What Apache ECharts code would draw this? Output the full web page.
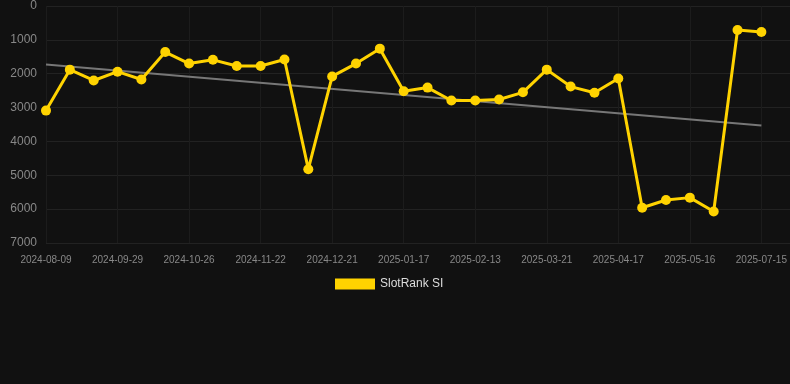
<!DOCTYPE html>
<html>
<head>
<meta charset="utf-8">
<script src="https://cdn.jsdelivr.net/npm/echarts@6/dist/echarts.min.js"></script>
<style>
  html, body { margin: 0; padding: 0; background: #111111; }
  #main { width: 790px; height: 384px; }
</style>
</head>
<body>
<div id="main"></div>
<script>
const dates = [
  '2024-08-09', '2024-08-26', '2024-09-12', '2024-09-29', '2024-10-08', '2024-10-17',
  '2024-10-26', '2024-11-04', '2024-11-13', '2024-11-22', '2024-12-01', '2024-12-11',
  '2024-12-21', '2024-12-30', '2025-01-08', '2025-01-17', '2025-01-26', '2025-02-04',
  '2025-02-13', '2025-02-25', '2025-03-09', '2025-03-21', '2025-03-30', '2025-04-08',
  '2025-04-17', '2025-04-26', '2025-05-06', '2025-05-16', '2025-06-05', '2025-06-25',
  '2025-07-15'
];
const rankValues = [
  3090, 1880, 2200, 1940, 2170, 1360, 1700, 1590, 1770, 1770, 1580,
  4820, 2080, 1700, 1260, 2520, 2410, 2790, 2790, 2760, 2550, 1880,
  2380, 2560, 2140, 5960, 5730, 5660, 6070, 710, 770
];
// trend line end points (first and last date)
const trendValues = [1730, 3530];

const chart = echarts.init(document.getElementById('main'));

const rankData = rankValues.map((v, i) => [i, v]);
const trendData = [[0, trendValues[0]], [dates.length - 1, trendValues[1]]];

chart.setOption({
  backgroundColor: '#111111',
  animation: false,
  grid: { left: 46, right: 0, top: 6, bottom: 141 },
  legend: {
    data: ['SlotRank SI'],
    top: 273,
    left: 330,
    itemWidth: 40,
    itemHeight: 11,
    itemGap: 10,
    icon: 'rect',
    textStyle: { color: '#dddddd', fontSize: 12, fontFamily: 'Arial, Liberation Sans, sans-serif' }
  },
  xAxis: {
    type: 'value',
    min: 0,
    max: 31.2,
    interval: 3,
    axisLine: { show: false },
    axisTick: { show: false },
    axisLabel: {
      color: '#888888',
      fontSize: 10,
      margin: 12,
      fontFamily: 'Arial, Liberation Sans, sans-serif',
      showMaxLabel: false,
      formatter: v => dates[v] || ''
    },
    splitLine: { show: true, lineStyle: { color: '#1c1c1c', width: 1 } }
  },
  yAxis: {
    type: 'value',
    inverse: true,
    min: 0,
    max: 7000,
    interval: 1000,
    axisLine: { show: false },
    axisTick: { show: false },
    axisLabel: {
      color: '#888888',
      fontSize: 12,
      margin: 9,
      fontFamily: 'Arial, Liberation Sans, sans-serif',
      formatter: v => String(v)
    },
    splitLine: { lineStyle: { color: '#222222', width: 1 } }
  },
  series: [
    {
      name: 'trend',
      type: 'line',
      data: trendData,
      symbol: 'none',
      silent: true,
      lineStyle: { color: '#777777', width: 2 },
      z: 1
    },
    {
      name: 'SlotRank SI',
      type: 'line',
      data: rankData,
      symbol: 'circle',
      symbolSize: 10,
      itemStyle: { color: '#FFD300' },
      lineStyle: { color: '#FFD300', width: 3 },
      z: 2
    }
  ]
});
</script>
</body>
</html>
